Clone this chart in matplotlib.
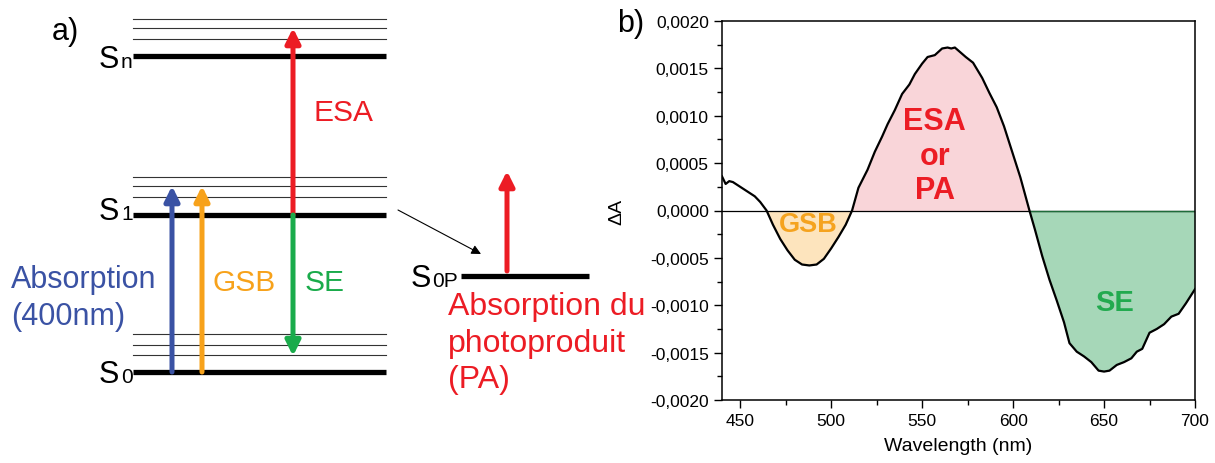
import matplotlib.pyplot as plt
import numpy as np
from matplotlib.ticker import MultipleLocator, FuncFormatter

plt.rcParams["font.family"] = ["Liberation Sans", "DejaVu Sans"]

# ─── Data: transient absorption spectrum (panel b) ─────────────────────────────
wavelength = np.array([
    440, 442, 444, 446, 450, 454, 458, 461, 464.5, 468, 472, 476, 480, 484, 488,
    492, 496, 500, 504, 508, 511.5, 515, 520, 524, 528, 531, 535, 539, 543, 546,
    550, 553, 557, 561, 564, 566, 568, 571, 574, 578, 583, 587, 591, 595, 600,
    604, 609, 612, 616, 620, 624, 628, 631, 635, 639, 643, 647, 650, 653, 657,
    661, 665, 668, 671, 675, 679, 683, 687, 691, 695, 700,
])
delta_a = np.array([
    3.6, 2.8, 3.1, 3.0, 2.5, 2.0, 1.5, 0.9, 0.0, -1.5, -3.0, -4.2, -5.2, -5.7, -5.8,
    -5.7, -5.1, -4.0, -2.8, -1.5, 0.0, 2.4, 4.3, 6.2, 7.8, 9.1, 10.6, 12.3, 13.3, 14.4,
    15.5, 16.2, 16.4, 17.1, 17.2, 17.1, 17.2, 16.7, 16.2, 15.6, 14.0, 12.4, 10.9, 8.9, 5.9,
    3.5, 0.0, -2.0, -4.8, -7.3, -9.5, -11.8, -14.0, -14.9, -15.4, -16.0, -16.9, -17.0, -16.9, -16.3,
    -16.0, -15.6, -14.9, -14.6, -12.9, -12.5, -12.0, -11.2, -10.9, -9.8, -8.3,
]) * 1e-4

# band limits (zero crossings) and labels
band_names  = ["GSB", "ESA\nor\nPA", "SE"]
band_limits = [(464.5, 511.5), (511.5, 609), (609, 700)]
band_fill   = ["#fde4bd", "#f9d5d9", "#a6d7b8"]
band_text   = ["#f5a31f", "#ec1c24", "#22aa4f"]
band_label_pos = [(487.5, -0.00014), (557, 0.00058), (656, -0.00097)]
band_label_size = [19.5, 22, 21]

# ─── Data: energy level diagram (panel a) ──────────────────────────────────────
level_names = ["n", "1", "0"]
level_y     = [57, 216, 373]
vib_y       = [[20, 29, 40], [178, 187, 198], [335, 346, 356]]
label_base  = [68, 220, 383]

RED, GREEN, BLUE, ORANGE = "#ec1c24", "#1aab4b", "#3a52a4", "#f7a21b"

fig = plt.figure(figsize=(12.15, 4.64), dpi=100)

# ─── Panel a: Jablonski-type diagram in pixel coordinates ──────────────────────
ax0 = fig.add_axes([0, 0, 600 / 1215, 1])
ax0.set_xlim(0, 600)
ax0.set_ylim(464, 0)
ax0.axis("off")

x0, x1 = 133, 386
for name, y, vibs, base in zip(level_names, level_y, vib_y, label_base):
    ax0.plot([x0, x1], [y, y], color="black", lw=3.8, solid_capstyle="butt")
    for v in vibs:
        ax0.plot([x0, x1], [v, v], color="#333333", lw=0.8)
    ax0.text(99, base, "S", fontsize=22, va="baseline", ha="left")
    ax0.text(121, base, name, fontsize=15, va="baseline", ha="left")


def arrow(ax, tail, tip, color, lw=3.6, ms=22, style="-|>"):
    ax.annotate("", xy=tip, xytext=tail,
                arrowprops=dict(arrowstyle=style, color=color, lw=lw,
                                mutation_scale=ms, shrinkA=0, shrinkB=0))


def lines(ax, x, baselines, txt, **kw):
    for b, t in zip(baselines, txt.split("\n")):
        ax.text(x, b, t, va="baseline", ha="left", **kw)


arrow(ax0, (172, level_y[2]), (172, 187), BLUE)
arrow(ax0, (202, level_y[2]), (202, 187), ORANGE)
arrow(ax0, (293, level_y[1]), (293, 29), RED)
arrow(ax0, (293, level_y[1]), (293, 357), GREEN)

ax0.text(52, 40, "a)", fontsize=22, ha="left", va="baseline")
lines(ax0, 314, [121], "ESA", fontsize=21.5, color=RED)
lines(ax0, 11, [288, 325], "Absorption\n(400nm)", fontsize=22, color=BLUE)
lines(ax0, 212, [291], "GSB", fontsize=21.5, color=ORANGE)
lines(ax0, 305, [291], "SE", fontsize=21.5, color=GREEN)

# photoproduct
ax0.annotate("", xy=(481, 255), xytext=(398, 211),
             arrowprops=dict(arrowstyle="-|>", color="black", lw=0.8,
                             mutation_scale=14, shrinkA=0, shrinkB=0))
ax0.plot([461, 589], [277, 277], color="black", lw=3.8, solid_capstyle="butt")
ax0.text(411, 287, "S", fontsize=22, va="baseline", ha="left")
ax0.text(432, 287, "0P", fontsize=15, va="baseline", ha="left")
arrow(ax0, (507, 272), (507, 172), RED)
lines(ax0, 448, [315, 352, 388], "Absorption du\nphotoproduit\n(PA)",
      fontsize=23, color=RED)

# ─── Panel b: spectrum ─────────────────────────────────────────────────────────
ax = fig.add_axes([722 / 1215, 1 - 401 / 464, (1195 - 722) / 1215, (401 - 22) / 464])

for (lo, hi), fc in zip(band_limits, band_fill):
    mask = (wavelength >= lo) & (wavelength <= hi)
    ax.fill_between(wavelength[mask], delta_a[mask], 0, color=fc, lw=0, zorder=1)
ax.axhline(0, color="black", lw=0.9, zorder=2)
ax.plot([band_limits[2][0], 700], [0, 0], color="#1f6b3a", lw=1.0, zorder=2)
ax.plot(wavelength, delta_a, color="black", lw=1.6, zorder=3)

for name, (bx, by), c, fs in zip(band_names, band_label_pos, band_text, band_label_size):
    ax.text(bx, by, name, color=c, fontsize=fs, fontweight="bold",
            ha="center", va="center", linespacing=1.2, zorder=4)

ax.set_xlim(440, 700)
ax.set_ylim(-0.002, 0.002)
ax.xaxis.set_major_locator(MultipleLocator(50))
ax.xaxis.set_minor_locator(MultipleLocator(25))
ax.yaxis.set_major_locator(MultipleLocator(0.0005))
ax.yaxis.set_minor_locator(MultipleLocator(0.00025))
ax.yaxis.set_major_formatter(FuncFormatter(lambda v, p: f"{v:.4f}".replace(".", ",")))
ax.tick_params(which="both", direction="out", top=False, right=False, labelsize=12.5)
ax.tick_params(which="major", length=6, width=1)
ax.tick_params(which="minor", length=3.5, width=1)
for s in ax.spines.values():
    s.set_linewidth(1.1)
ax.set_xlabel("Wavelength (nm)", fontsize=14, labelpad=6)
ax.set_ylabel("ΔA", fontsize=14, labelpad=18)

fig.text(617 / 1215, 1 - 32 / 464, "b)", fontsize=22, ha="left", va="baseline")

plt.savefig("out.png", dpi=100)
